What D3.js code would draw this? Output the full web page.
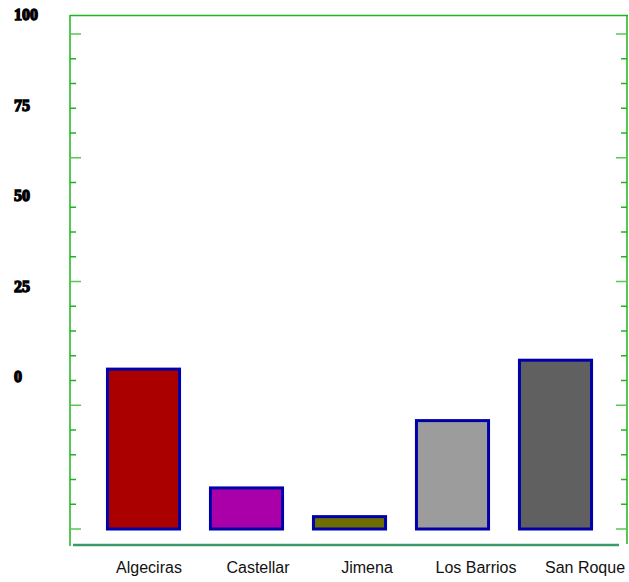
<!DOCTYPE html>
<html><head><meta charset="utf-8">
<script src="https://cdn.jsdelivr.net/npm/d3@7"></script>
<style>body{margin:0;background:#fff}svg{display:block}</style>
</head><body>
<script>
const categories = ["Algeciras", "Castellar", "Jimena", "Los Barrios", "San Roque"];
const values = [32.3, 8.3, 2.5, 21.9, 34.1];
const barColors = ["#aa0000", "#aa00aa", "#6e6e00", "#9c9c9c", "#606060"];
const yTickLabels = [0, 25, 50, 75, 100];
const yTicks = d3.range(0, 101, 5);

const W = 629, H = 582;
const svg = d3.select("body").append("svg").attr("width", W).attr("height", H);

const y = d3.scaleLinear().domain([0, 100]).range([529, 34]);
const yLab = d3.scaleLinear().domain([0, 100]).range([382, 20]);
const x = d3.scaleBand().domain(categories).range([92, 607]).paddingInner(0.3).paddingOuter(0.15);
const xLab = d3.scalePoint().domain(categories).range([149, 585]);

// frame
const green = "#1db41d";
svg.append("line").attr("x1", 70).attr("x2", 70).attr("y1", 15).attr("y2", 546).attr("stroke", green).attr("stroke-width", 1.5);
svg.append("line").attr("x1", 70).attr("x2", 628).attr("y1", 15.5).attr("y2", 15.5).attr("stroke", green).attr("stroke-width", 1.5);
svg.append("line").attr("x1", 627).attr("x2", 627).attr("y1", 15).attr("y2", 544).attr("stroke", green).attr("stroke-width", 1.5);

// left ticks
svg.append("g").selectAll("line").data(yTicks).join("line")
  .attr("x1", 70).attr("x2", d => d % 25 === 0 ? 81 : 76)
  .attr("y1", d => y(d)).attr("y2", d => y(d))
  .attr("stroke", d => d % 25 === 0 ? "#55c855" : green).attr("stroke-width", 1.5);
// right ticks
svg.append("g").selectAll("line").data(yTicks).join("line")
  .attr("x1", 627).attr("x2", d => d % 25 === 0 ? 616 : 621)
  .attr("y1", d => y(d)).attr("y2", d => y(d))
  .attr("stroke", d => d % 25 === 0 ? "#55c855" : green).attr("stroke-width", 1.5);

// y labels
svg.append("g").selectAll("text").data(yTickLabels).join("text")
  .attr("x", 14).attr("y", d => yLab(d))
  .attr("font-family", "Liberation Serif, serif").attr("font-weight", "bold").attr("font-size", 16)
  .attr("fill", "#000").attr("stroke", "#000").attr("stroke-width", 1.3)
  .text(d => d);

// bars
svg.append("g").selectAll("rect").data(categories).join("rect")
  .attr("x", d => x(d)).attr("width", x.bandwidth())
  .attr("y", (d, i) => y(values[i])).attr("height", (d, i) => y(0) - y(values[i]))
  .attr("fill", (d, i) => barColors[i]).attr("stroke", "#0000aa").attr("stroke-width", 3);

// bottom axis line
svg.append("line").attr("x1", 73).attr("x2", 619).attr("y1", 545).attr("y2", 545).attr("stroke", "#3a9a6a").attr("stroke-width", 2.5);

// x labels
svg.append("g").selectAll("text").data(categories).join("text")
  .attr("x", d => xLab(d)).attr("y", 573).attr("text-anchor", "middle")
  .attr("font-family", "Liberation Sans, Arial, sans-serif").attr("font-size", 16).attr("fill", "#111")
  .text(d => d);
</script>
</body></html>
